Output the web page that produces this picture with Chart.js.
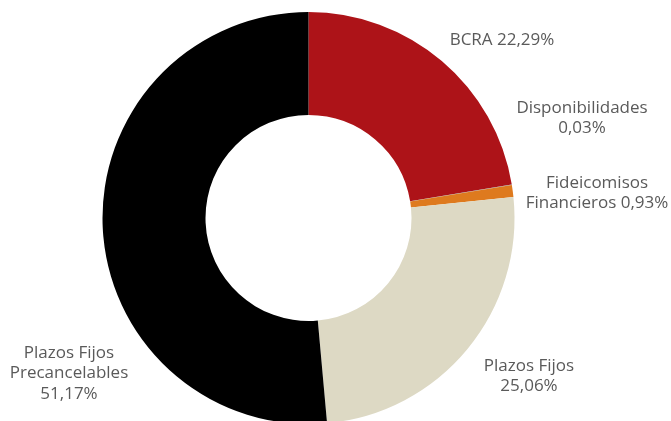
<!DOCTYPE html>
<html>
<head>
<meta charset="utf-8">
<script src="https://cdn.jsdelivr.net/npm/chart.js@4.4.1/dist/chart.umd.min.js"></script>
<style>
    html, body { margin: 0; padding: 0; background: #fff; overflow: hidden; }
    #wrap { position: relative; width: 671px; height: 430px; }
</style>
</head>
<body>
<div id="wrap"><canvas id="rosca"></canvas></div>
<script>
// datos de la cartera
const categorias = ['BCRA', 'Disponibilidades', 'Fideicomisos Financieros', 'Plazos Fijos', 'Plazos Fijos Precancelables'];
const porcentajes = [22.29, 0.03, 0.93, 25.06, 51.17];
const etiquetas = [
    ['BCRA 22,29%'],
    ['Disponibilidades', '0,03%'],
    ['Fideicomisos', 'Financieros 0,93%'],
    ['Plazos Fijos', '25,06%'],
    ['Plazos Fijos', 'Precancelables', '51,17%']
];

const colores = ['#AD1318', '#8C8C8C', '#DE7A1E', '#DDD9C4', '#000000'];
// posicion de cada texto (centro de la primera linea)
const posEtiquetas = [[502, 40], [582, 108], [597, 183], [529, 366], [69, 353]];

const textosPlugin = {
    id: 'textos',
    afterDraw(chart) {
        const ctx = chart.ctx;
        ctx.save();
        ctx.fillStyle = '#5a5a5a';
        ctx.font = '17px "Open Sans"';
        ctx.textAlign = 'center';
        ctx.textBaseline = 'middle';
        etiquetas.forEach((lineas, i) => {
            const [x, y] = posEtiquetas[i];
            lineas.forEach((t, j) => ctx.fillText(t, x, y + j * 20.5));
        });
        ctx.restore();
    }
};

new Chart(document.getElementById('rosca'), {
    type: 'doughnut',
    data: {
        labels: categorias,
        datasets: [{
            data: porcentajes,
            backgroundColor: colores,
            borderWidth: 0,
            hoverOffset: 0
        }]
    },
    options: {
        responsive: true,
        maintainAspectRatio: false,
        animation: false,
        cutout: '50%',
        layout: { padding: { left: 102, right: 156, top: 12, bottom: 6 } },
        plugins: {
            legend: { display: false },
            tooltip: { enabled: false }
        }
    },
    plugins: [textosPlugin]
});
</script>
</body>
</html>
